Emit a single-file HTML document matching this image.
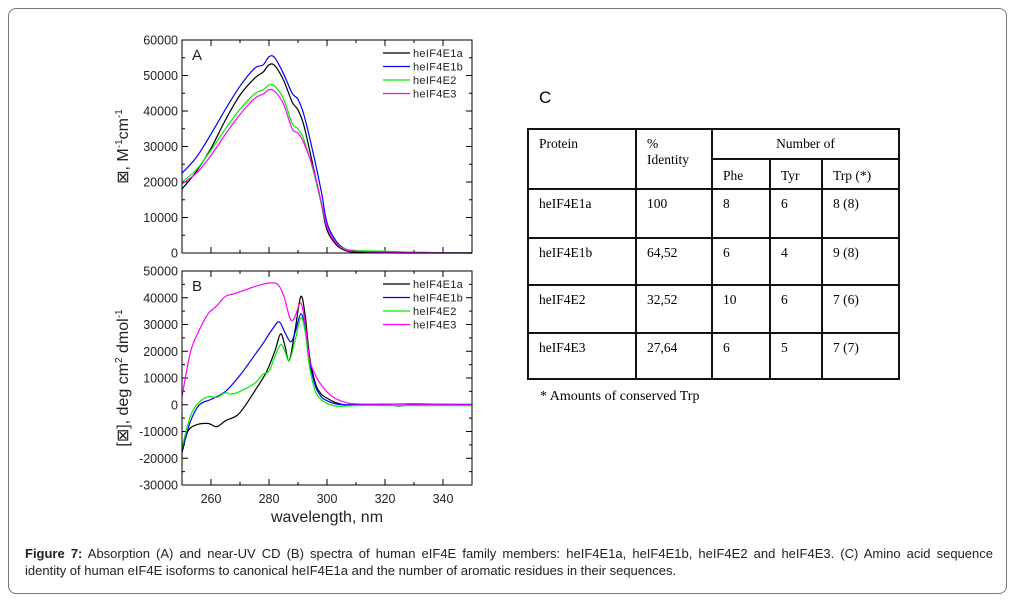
<!DOCTYPE html>
<html><head><meta charset="utf-8"><style>
body{margin:0;background:#fff;width:1015px;height:601px;overflow:hidden;font-family:"Liberation Sans",Arial,sans-serif}
#frame{position:absolute;left:8px;top:8px;width:997px;height:584px;border:1px solid #777;border-radius:8px}
#cap{position:absolute;left:25px;top:545px;width:968px;font-size:13px;line-height:17px;color:#222}
#cap .l1{text-align:justify;text-align-last:justify;white-space:nowrap}
table{position:absolute;left:527px;top:128px;border-collapse:collapse;font-family:"Liberation Serif",serif;font-size:13.5px}
td{border:2px solid #111;vertical-align:top;padding:6px 0 0 10px;box-sizing:border-box}
</style></head><body>
<div id="frame"></div>
<svg id="chart" width="1015" height="601" style="position:absolute;left:0;top:0"></svg>
<div style="position:absolute;left:539px;top:88px;font-size:17px">C</div>
<table>
<tr style="height:30px"><td rowspan="2" style="width:108px">Protein</td><td rowspan="2" style="width:76px;line-height:16px">%<br>Identity</td><td colspan="3" style="text-align:center;padding-left:0">Number of</td></tr>
<tr style="height:30px"><td style="width:58px;padding-top:8px">Phe</td><td style="width:52px;padding-top:8px">Tyr</td><td style="width:77px;padding-top:8px">Trp (*)</td></tr>
<tr style="height:49px"><td>heIF4E1a</td><td>100</td><td>8</td><td>6</td><td>8 (8)</td></tr>
<tr style="height:47px"><td>heIF4E1b</td><td>64,52</td><td>6</td><td>4</td><td>9 (8)</td></tr>
<tr style="height:48px"><td>heIF4E2</td><td>32,52</td><td>10</td><td>6</td><td>7 (6)</td></tr>
<tr style="height:46px"><td>heIF4E3</td><td>27,64</td><td>6</td><td>5</td><td>7 (7)</td></tr>
</table>
<div style="position:absolute;left:540px;top:389px;font-family:'Liberation Serif',serif;font-size:14px">* Amounts of conserved Trp</div>
<div id="cap"><div class="l1"><b>Figure 7:</b> Absorption (A) and near-UV CD (B) spectra of human eIF4E family members: heIF4E1a, heIF4E1b, heIF4E2 and heIF4E3. (C) Amino acid sequence</div><div>identity of human eIF4E isoforms to canonical heIF4E1a and the number of aromatic residues in their sequences.</div></div>
<script>
const seriesNames=["heIF4E1a","heIF4E1b","heIF4E2","heIF4E3"];
const seriesColors=["#000","#00f","#0e0","#f0f"];
const absNm=[250,255,260,265,270,275,278,280,282,285,288,290,292,295,298,300,303,306,310,320,330,350];
const abs1a=[18000,23000,29500,37500,44500,49200,51000,53000,52800,48700,42500,40300,36000,25300,14000,6500,2500,800,200,50,0,0];
const abs1b=[22500,27000,33500,40500,47000,52000,53000,55300,55000,50500,45000,43300,39000,29000,17500,8500,3500,1300,600,300,200,0];
const abs2=[20000,23500,29000,35000,40500,44800,46000,47300,47000,43500,36500,35000,32000,24000,14000,7500,3000,1300,700,500,200,0];
const abs3=[19500,22500,27500,33500,39000,43500,44800,46000,45500,42000,35000,33800,31000,24500,14500,7500,3000,1000,500,300,100,0];
const cd1aNm=[250,252,255,259,262,265,269,272,275,279,282,284,285.5,287,289,291,292.5,294,296,298,300,303,306,310,320,330,350];
const cd1a=[-18000,-10000,-7500,-7000,-8200,-6000,-4000,0,5000,12000,20000,26500,22000,16500,28000,40500,33000,18000,8000,4000,2500,800,0,0,200,300,0];
const cd1bNm=[250,253,256,260,265,270,275,278,281,283.5,285.5,287.5,289,291,292.5,294,296,298,300,303,306,310,320,325,330,350];
const cd1b=[-17000,-6000,0,2000,5000,11000,18500,23000,28000,31000,27000,23500,27000,34000,28000,16000,7000,3000,1500,300,0,0,0,-500,0,0];
const cd2Nm=[250,253,256,259,262,265,267,270,275,278,280,282,284,285.5,287,289,291,292.5,294,296,298,300,303,306,310,320,330,350];
const cd2=[-16000,-4000,1000,3000,2800,4500,4000,5000,8000,11500,12500,18000,22500,20000,16500,24000,32500,27000,14000,5000,2000,500,-500,-500,-300,-300,-300,-300];
const cd3Nm=[250,253,256,259,262,265,268,272,276,280,283,285,287,288,289,291,292.5,294,296,299,302,306,310,320,350];
const cd3=[3000,20000,28000,34000,37000,40500,41500,43000,44500,45500,45000,41000,33000,31500,33000,38000,30000,17000,11000,6000,3000,1000,300,200,200];
const xTicks=[260,280,300,320,340];
const aTicks=[0,10000,20000,30000,40000,50000,60000];
const bTicks=[-30000,-20000,-10000,0,10000,20000,30000,40000,50000];

const NS="http://www.w3.org/2000/svg";
const svg=document.getElementById('chart');
function mk(t,a,p){const e=document.createElementNS(NS,t);for(const k in a)e.setAttribute(k,a[k]);(p||svg).appendChild(e);return e;}
const X0=182,X1=472;
const sx=nm=>X0+(nm-250)/100*(X1-X0);
function smooth(pts){let d='M'+pts[0][0].toFixed(1)+','+pts[0][1].toFixed(1);
  for(let i=0;i<pts.length-1;i++){const p0=pts[Math.max(0,i-1)],p1=pts[i],p2=pts[i+1],p3=pts[Math.min(pts.length-1,i+2)];
    const c1=[p1[0]+(p2[0]-p0[0])/6,p1[1]+(p2[1]-p0[1])/6],c2=[p2[0]-(p3[0]-p1[0])/6,p2[1]-(p3[1]-p1[1])/6];
    d+=` C${c1[0].toFixed(1)},${c1[1].toFixed(1)} ${c2[0].toFixed(1)},${c2[1].toFixed(1)} ${p2[0].toFixed(1)},${p2[1].toFixed(1)}`;}
  return d;}
function panel(name,top,bot,ymin,ymax,ticks,minorStep,lines,label,legY,ytitle,showX){
  const sy=v=>bot-(v-ymin)/(ymax-ymin)*(bot-top);
  const g=mk('g',{});
  
  
  for(let v=ymin;v<=ymax;v+=minorStep){const y=sy(v);const major=ticks.includes(v);const l=major?6:3;
    mk('line',{x1:X0,x2:X0+l,y1:y,y2:y,stroke:'#000'},g);mk('line',{x1:X1,x2:X1-l,y1:y,y2:y,stroke:'#000'},g);}
  ticks.forEach(v=>{const t=mk('text',{x:X0-4,y:sy(v)+4.5,'text-anchor':'end','font-size':'12.5',fill:'#222'},g);t.textContent=v;
    });
  for(let nm=250;nm<=350;nm+=10){const x=sx(nm);const l=(nm%20==0)?6:3;
    mk('line',{x1:x,x2:x,y1:bot,y2:bot-l,stroke:'#000'},g);mk('line',{x1:x,x2:x,y1:top,y2:top+l,stroke:'#000'},g);}
  if(showX) xTicks.forEach(nm=>{const t=mk('text',{x:sx(nm),y:bot+18,'text-anchor':'middle','font-size':'12.5',fill:'#222'},g);t.textContent=nm;
    });
  lines.forEach((ln,i)=>{const pts=ln[0].map((nm,j)=>[sx(nm),sy(Math.max(ymin,ln[1][j]))]);
    const p=mk('path',{d:smooth(pts),fill:'none',stroke:seriesColors[i],'stroke-width':1.2,'stroke-linejoin':'round'},g);
    
    const ly=legY+i*13.5;
    mk('line',{x1:383,x2:410,y1:ly,y2:ly,stroke:seriesColors[i],'stroke-width':1.2},g);
    const t=mk('text',{x:413,y:ly+4,'font-size':'11','letter-spacing':'0.3',fill:'#222'},g);t.textContent=seriesNames[i];
    });
  mk('rect',{x:X0,y:top,width:X1-X0,height:bot-top,fill:'none',stroke:'#000','stroke-width':1},g);
  const lb=mk('text',{x:X0+10,y:top+20,'font-size':'15',fill:'#222'},g);lb.textContent=label;
  const yt=mk('text',{x:0,y:0,'font-size':'16',fill:'#222','text-anchor':'middle',transform:`translate(128,${(top+bot)/2}) rotate(-90)`},g);yt.innerHTML=ytitle;
  
}
panel('a',40,253,0,60000,aTicks,5000,[[absNm,abs1a],[absNm,abs1b],[absNm,abs2],[absNm,abs3]],'A',53,
 '&#8864;, M<tspan dy="-6" font-size="10">-1</tspan><tspan dy="6">cm</tspan><tspan dy="-6" font-size="10">-1</tspan>',false);
panel('b',271,485,-30000,50000,bTicks,5000,[[cd1aNm,cd1a],[cd1bNm,cd1b],[cd2Nm,cd2],[cd3Nm,cd3]],'B',284,
 '[&#8864;], deg cm<tspan dy="-6" font-size="10">2</tspan><tspan dy="6"> dmol</tspan><tspan dy="-6" font-size="10">-1</tspan>',true);
const xl=mk('text',{x:327,y:522,'text-anchor':'middle','font-size':'16',fill:'#222'});xl.textContent='wavelength, nm';


</script>
</body></html>
